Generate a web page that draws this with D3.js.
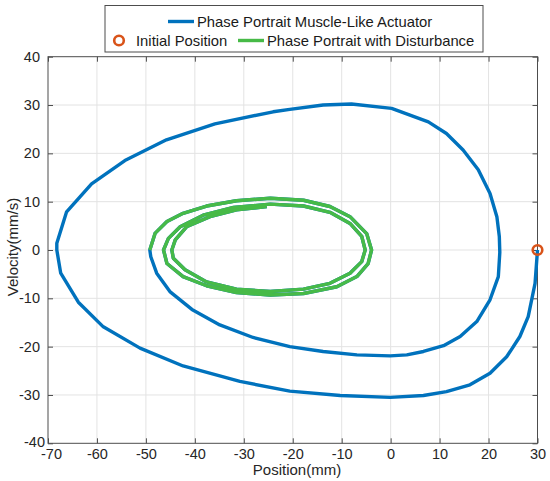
<!DOCTYPE html>
<html lang="en">
<head>
  <meta charset="utf-8">
  <title>Phase Portrait</title>
  <script src="https://d3js.org/d3.v7.min.js"></script>
  <style>
    body { margin: 0; background: #fff; font-family: 'Liberation Sans', Arial, sans-serif; }
    .grid line { stroke: #e3e3e3; stroke-width: 1; }
    .tick text { fill: #262626; font-size: 14.5px; font-family: 'Liberation Sans', Arial, sans-serif; }
    .lbl { fill: #262626; font-size: 15px; }
    .leg { fill: #1a1a1a; font-size: 14.8px; }
  </style>
</head>
<body>
<div id="chart"></div>
<script>
  // outer trajectory (position mm, velocity mm/s)
  var blueX = [30, 29.5, 28.1, 26.4, 23.7, 20.3, 16.2, 11.4, 6.7, -0.1, -10.3, -20.6, -30.8, -42.4, -51.2, -58.7, -63.8, -67.4, -68.2,
               -68.2, -66.2, -61.1, -54.3, -45.8, -35.9, -24, -20.6, -13.8, -8, 0.2, 7.7, 11.4, 14.8, 17.9, 20.3, 21.7, 22.2, 22.3,
               22, 20.3, 17.6, 14.2, 10.8, 6.7, 3.3, -0.1, -6.9, -13.8, -20.6, -28.1, -34.9, -40.6, -45.1, -47.8, -49, -49.2];
  var blueY = [0, -6.9, -13.8, -17.9, -22.1, -25.5, -27.9, -29.3, -30.1, -30.5, -30.1, -29.2, -27.2, -24, -20.3, -15.9, -10.8, -4.8, 0,
               1.4, 7.9, 13.7, 18.5, 22.8, 26.1, 28.6, 29.1, 30, 30.2, 29.3, 26.5, 24.1, 20.7, 16.6, 11.7, 6.9, 2.8, -0.5,
               -5.5, -10.3, -14.8, -17.9, -19.8, -21, -21.7, -21.9, -21.7, -21, -20, -18.1, -15.5, -12.3, -8.6, -4.8, -1.4, 0];

  // inner spiral (shared by both runs, the disturbed one drawn on top)
  var spiralX = [-49.2, -48.1, -45.7, -42.4, -37.6, -31.5, -24.6, -17.8, -12.4, -8.3, -4.9, -3.9, -4.6, -6.9, -11, -17.8, -24.6, -31.5, -37.6, -42.4, -45.7, -46.4,
                 -45.4, -43, -38.3, -32.1, -24.6, -17.8, -12.4, -8.3, -5.9, -5.2, -5.9, -8.3, -12.4, -17.8, -24.6, -31.5, -37.6, -42, -44.4, -44.7,
                 -44, -41.7, -36.9, -31.5, -25.3];
  var spiralY = [0, 3.5, 5.9, 7.6, 9.1, 10.2, 10.7, 10.3, 9, 6.9, 3.4, 0, -2.8, -5.5, -7.6, -9, -9.3, -8.8, -7.4, -5.5, -2.8, 0,
                 2.4, 4.8, 7.2, 8.8, 9.5, 9.1, 7.8, 5.5, 2.8, 0, -2.4, -4.8, -6.9, -8.1, -8.6, -8.1, -6.6, -4.1, -1.7, 0,
                 2.1, 4.8, 6.9, 8.3, 9];

  var startX = [30], startY = [0];
  var xTicks = d3.range(-70, 31, 10);
  var yTicks = d3.range(-40, 41, 10);

  var W = 550, H = 481;
  var margin = {top: 56.7, right: 12.5, bottom: 37.7, left: 48};
  var width = W - margin.left - margin.right,
      height = H - margin.top - margin.bottom;

  var svg = d3.select("#chart").append("svg")
      .attr("width", W).attr("height", H);
  var g = svg.append("g")
      .attr("transform", "translate(" + margin.left + "," + margin.top + ")");

  var x = d3.scaleLinear().domain([-70, 30]).range([0, width]);
  var y = d3.scaleLinear().domain([-40, 40]).range([height, 0]);
  var fmt = d => String(d);   // plain hyphen minus, like the original

  // grid
  g.append("g").attr("class", "grid")
    .selectAll("line").data(xTicks.slice(1, -1)).enter().append("line")
    .attr("x1", d => x(d)).attr("x2", d => x(d)).attr("y1", 0).attr("y2", height);
  g.append("g").attr("class", "grid")
    .selectAll("line").data(yTicks.slice(1, -1)).enter().append("line")
    .attr("y1", d => y(d)).attr("y2", d => y(d)).attr("x1", 0).attr("x2", width);

  // axes with inward ticks
  var axCol = "#4d4d4d";
  function styleAxis(sel) {
    sel.select(".domain").remove();
    sel.selectAll(".tick line").attr("stroke", axCol);
  }
  var xl = g.append("g").attr("transform", "translate(0," + height + ")")
    .call(d3.axisBottom(x).tickValues(xTicks).tickSizeInner(-5).tickSizeOuter(0).tickPadding(5).tickFormat(fmt))
    .call(styleAxis);
  g.append("g")
    .call(d3.axisTop(x).tickValues(xTicks).tickSizeInner(-5).tickSizeOuter(0).tickFormat(""))
    .call(styleAxis);
  var yl = g.append("g")
    .call(d3.axisLeft(y).tickValues(yTicks).tickSizeInner(-5).tickSizeOuter(0).tickPadding(8).tickFormat(fmt))
    .call(styleAxis);
  yl.selectAll(".tick text").filter(d => d === -40).attr("dx", "5px").attr("dy", "0.2em");
  xl.selectAll(".tick text").filter(d => d === -70).attr("dx", "3px");
  g.append("g").attr("transform", "translate(" + width + ",0)")
    .call(d3.axisRight(y).tickValues(yTicks).tickSizeInner(-5).tickSizeOuter(0).tickFormat(""))
    .call(styleAxis);
  g.selectAll(".tick text").attr("fill", "#262626");

  g.append("rect").attr("width", width).attr("height", height)
    .attr("fill", "none").attr("stroke", axCol).attr("stroke-width", 1);

  // curves
  var line = d3.line().x(d => x(d[0])).y(d => y(d[1]));
  var outer = blueX.map((v, i) => [v, blueY[i]]);
  var spiral = spiralX.map((v, i) => [v, spiralY[i]]);

  g.append("path").datum(outer.concat(spiral))
    .attr("d", line).attr("fill", "none")
    .attr("stroke", "#0072BD").attr("stroke-width", 3.4).attr("stroke-linejoin", "round");
  g.append("path").datum(spiral)
    .attr("d", line).attr("fill", "none")
    .attr("stroke", "#47BA47").attr("stroke-width", 3.4).attr("stroke-linejoin", "round");

  g.selectAll("circle.start").data(startX).enter().append("circle")
    .attr("class", "start")
    .attr("cx", d => x(d)).attr("cy", (d, i) => y(startY[i]))
    .attr("r", 4.8).attr("fill", "none")
    .attr("stroke", "#D95319").attr("stroke-width", 2.6);

  // axis labels
  svg.append("text").attr("class", "lbl")
    .attr("x", 297).attr("y", 474.5)
    .attr("text-anchor", "middle").text("Position(mm)");
  svg.append("text").attr("class", "lbl")
    .attr("transform", "translate(18,247) rotate(-90)")
    .attr("text-anchor", "middle").text("Velocity(mm/s)");

  // legend
  var leg = svg.append("g");
  leg.append("rect").attr("x", 105).attr("y", 5.5).attr("width", 378).attr("height", 46.5)
    .attr("fill", "#fff").attr("stroke", "#4d4d4d").attr("stroke-width", 1);
  leg.append("line").attr("x1", 168).attr("x2", 194).attr("y1", 21.5).attr("y2", 21.5)
    .attr("stroke", "#0072BD").attr("stroke-width", 3.4);
  leg.append("text").attr("class", "leg").attr("x", 197).attr("y", 26.5)
    .text("Phase Portrait Muscle-Like Actuator");
  leg.append("circle").attr("cx", 119).attr("cy", 40.5).attr("r", 4.8)
    .attr("fill", "none").attr("stroke", "#D95319").attr("stroke-width", 2.6);
  leg.append("text").attr("class", "leg").attr("x", 136).attr("y", 45.5)
    .text("Initial Position");
  leg.append("line").attr("x1", 238).attr("x2", 264).attr("y1", 40.5).attr("y2", 40.5)
    .attr("stroke", "#47BA47").attr("stroke-width", 3.4);
  leg.append("text").attr("class", "leg").attr("x", 267).attr("y", 45.5)
    .text("Phase Portrait with Disturbance");
</script>
</body>
</html>
